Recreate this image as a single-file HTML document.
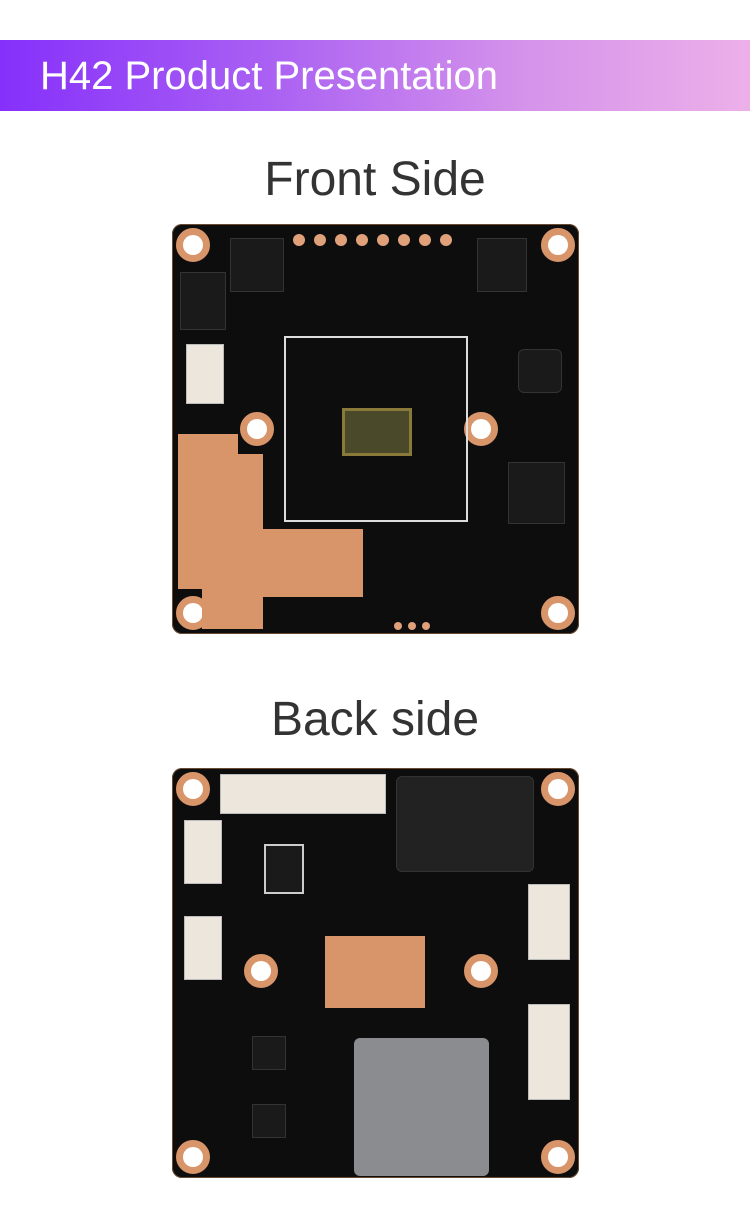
<!DOCTYPE html>
<html><head><meta charset="utf-8"><style>
body{margin:0;width:750px;height:1223px;background:#fff;position:relative;overflow:hidden;font-family:"Liberation Sans",sans-serif}
.bar{position:absolute;left:0;top:40px;width:750px;height:71px;background:linear-gradient(90deg,#8630fb 0%,#a95ff3 35%,#d593ea 70%,#ecb0e9 100%)}
.bar span{position:absolute;left:40px;top:14px;font-size:40px;color:#fff;white-space:nowrap}
.ttl{position:absolute;left:0;width:750px;text-align:center;font-size:48px;color:#333}
.pcb{position:absolute;left:172px;width:407px;height:410px;background:#0d0d0d;border-radius:10px;box-shadow:0 0 0 1px #6a4a30 inset}
.h{position:absolute;width:34px;height:34px;border-radius:50%;background:#d9956a;box-sizing:border-box;border:10px solid #d9956a}
.h::after{content:"";position:absolute;left:-3px;top:-3px;width:20px;height:20px;border-radius:50%;background:#fff}
.p{position:absolute;width:12px;height:12px;border-radius:50%;background:#e0a07a}
.b{position:absolute;background:#1a1a1a;border:1px solid #333}
.c{position:absolute;background:#d9956a}
.w{position:absolute;background:#ece6dc;border:1px solid #bbb}
</style></head><body>
<div class="bar"><span>H42 Product Presentation</span></div>
<div class="ttl" style="top:152px">Front Side</div>
<div class="pcb" style="top:224px">
 <div class="h" style="left:4px;top:4px"></div><div class="h" style="left:369px;top:4px"></div>
 <div class="h" style="left:4px;top:372px"></div><div class="h" style="left:369px;top:372px"></div>
 <div class="h" style="left:68px;top:188px"></div><div class="h" style="left:292px;top:188px"></div>
 <div class="p" style="left:121px;top:10px"></div><div class="p" style="left:142px;top:10px"></div><div class="p" style="left:163px;top:10px"></div><div class="p" style="left:184px;top:10px"></div><div class="p" style="left:205px;top:10px"></div><div class="p" style="left:226px;top:10px"></div><div class="p" style="left:247px;top:10px"></div><div class="p" style="left:268px;top:10px"></div>
 <div class="c" style="left:6px;top:210px;width:60px;height:155px"></div>
 <div class="c" style="left:66px;top:230px;width:25px;height:175px"></div>
 <div class="c" style="left:91px;top:305px;width:100px;height:68px"></div>
 <div class="c" style="left:30px;top:365px;width:60px;height:40px"></div>
 <div style="position:absolute;left:112px;top:112px;width:184px;height:186px;border:2px solid #ddd;box-sizing:border-box"></div>
 <div style="position:absolute;left:170px;top:184px;width:64px;height:42px;background:#4a4a2a;border:3px solid #8a7a3a"></div>
 <div class="b" style="left:58px;top:14px;width:52px;height:52px"></div>
 <div class="b" style="left:305px;top:14px;width:48px;height:52px"></div>
 <div class="b" style="left:8px;top:48px;width:44px;height:56px"></div>
 <div class="b" style="left:336px;top:238px;width:55px;height:60px"></div>
 <div class="b" style="left:346px;top:125px;width:42px;height:42px;border-radius:6px"></div>
 <div class="w" style="left:14px;top:120px;width:36px;height:58px"></div>
 <div class="p" style="left:222px;top:398px;width:8px;height:8px"></div><div class="p" style="left:236px;top:398px;width:8px;height:8px"></div><div class="p" style="left:250px;top:398px;width:8px;height:8px"></div>
</div>
<div class="ttl" style="top:692px">Back side</div>
<div class="pcb" style="top:768px">
 <div class="h" style="left:4px;top:4px"></div><div class="h" style="left:369px;top:4px"></div>
 <div class="h" style="left:4px;top:372px"></div><div class="h" style="left:369px;top:372px"></div>
 <div class="h" style="left:72px;top:186px"></div><div class="h" style="left:292px;top:186px"></div>
 <div class="w" style="left:48px;top:6px;width:164px;height:38px"></div>
 <div class="b" style="left:224px;top:8px;width:136px;height:94px;background:#222;border-radius:6px"></div>
 <div class="w" style="left:12px;top:52px;width:36px;height:62px"></div>
 <div class="w" style="left:12px;top:148px;width:36px;height:62px"></div>
 <div class="w" style="left:356px;top:116px;width:40px;height:74px"></div>
 <div class="w" style="left:356px;top:236px;width:40px;height:94px"></div>
 <div class="c" style="left:153px;top:168px;width:100px;height:72px"></div>
 <div style="position:absolute;left:182px;top:270px;width:135px;height:138px;background:#8a8c90;border-radius:6px"></div>
 <div class="b" style="left:80px;top:268px;width:32px;height:32px"></div>
 <div class="b" style="left:80px;top:336px;width:32px;height:32px"></div>
 <div class="b" style="left:92px;top:76px;width:36px;height:46px;border:2px solid #ccc"></div>
</div>
</body></html>
